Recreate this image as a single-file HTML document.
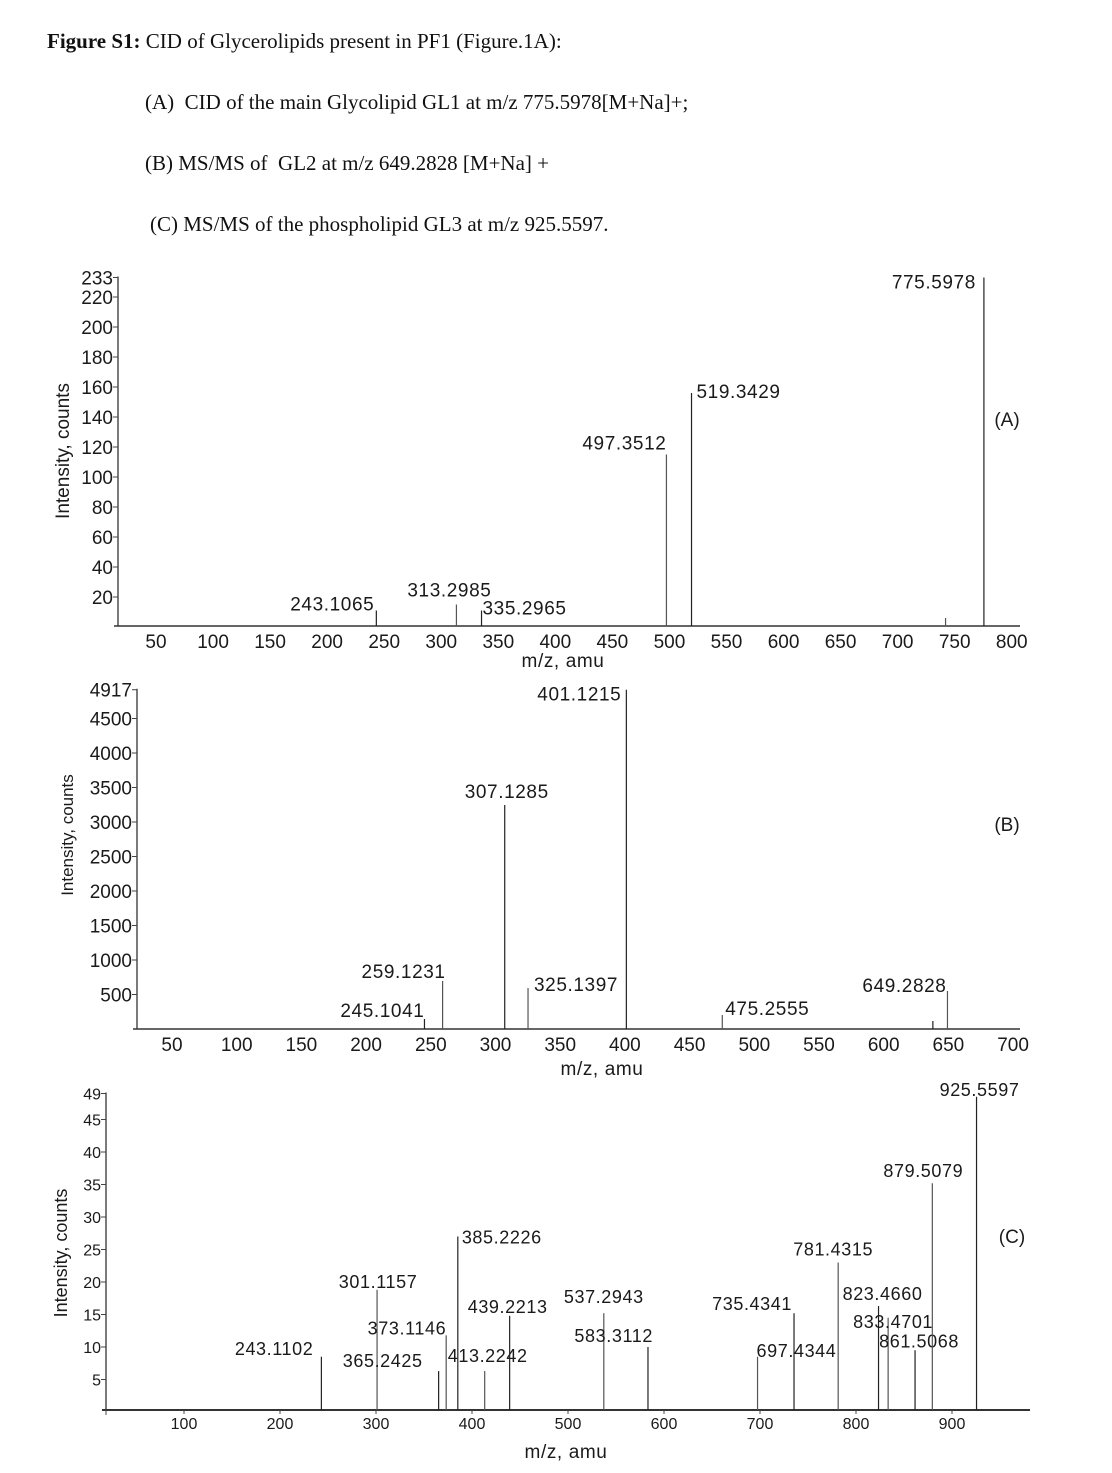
<!DOCTYPE html>
<html><head><meta charset="utf-8"><style>
html,body{margin:0;padding:0;background:#fff;}
body{width:1112px;height:1473px;position:relative;overflow:hidden;}
.t{position:absolute;font-family:"Liberation Serif",serif;font-size:21px;color:#111;white-space:nowrap;}
svg{position:absolute;left:0;top:0;}
svg text{font-family:"Liberation Sans",sans-serif;fill:#1a1a1a;}
</style></head><body>
<div class="t" style="left:47px;top:29px;"><b>Figure S1:</b> CID of Glycerolipids present in PF1 (Figure.1A):</div>
<div class="t" style="left:145px;top:90px;">(A)&nbsp; CID of the main Glycolipid GL1 at m/z 775.5978[M+Na]+;</div>
<div class="t" style="left:145px;top:151px;">(B) MS/MS of&nbsp; GL2 at m/z 649.2828 [M+Na] +</div>
<div class="t" style="left:150px;top:212px;">(C) MS/MS of the phospholipid GL3 at m/z 925.5597.</div>
<svg id="chart" width="1112" height="1473"></svg>
<script>
// Panel A data
const aMz = [243.1065, 313.2985, 335.2965, 497.3512, 519.3429, 742, 775.5978];
const aInt = [11, 15, 11, 115, 156, 6, 233];
const aLabels = ["243.1065","313.2985","335.2965","497.3512","519.3429","","775.5978"];
const aXTicks = [50,100,150,200,250,300,350,400,450,500,550,600,650,700,750,800];
const aYTicks = [20,40,60,80,100,120,140,160,180,200,220,233];
// Panel B data
const bMz = [245.1041, 259.1231, 307.1285, 325.1397, 401.1215, 475.2555, 638, 649.2828];
const bInt = [145, 696, 3246, 594, 4917, 203, 116, 551];
const bLabels = ["245.1041","259.1231","307.1285","325.1397","401.1215","475.2555","","649.2828"];
const bXTicks = [50,100,150,200,250,300,350,400,450,500,550,600,650,700];
const bYTicks = [500,1000,1500,2000,2500,3000,3500,4000,4500,4917];
// Panel C data
const cMz = [243.1102,301.1157,365.2425,373.1146,385.2226,413.2242,439.2213,537.2943,583.3112,697.4344,735.4341,781.4315,823.4660,833.4701,861.5068,879.5079,925.5597];
const cInt = [8.5,18.8,6.3,11.8,27,6.3,14.8,15.2,10,8.5,15.2,23,16.3,14.5,9.5,35.2,48.5];
const cLabels = ["243.1102","301.1157","365.2425","373.1146","385.2226","413.2242","439.2213","537.2943","583.3112","697.4344","735.4341","781.4315","823.4660","833.4701","861.5068","879.5079","925.5597"];
const cXTicks = [100,200,300,400,500,600,700,800,900];
const cYTicks = [5,10,15,20,25,30,35,40,45,49];

// label layout (anchor, dx, dy relative to peak top) - styling only
const aLay = [["end",-2,0],["middle",-7,-8],["start",1,4],["end",0,-5],["start",5,5],["",0,0],["end",-8,11]];
const bLay = [["end",0,-2],["end",3,-3],["middle",2,-7],["start",6,3],["end",-5,11],["start",3,0],["",0,0],["end",-1,1]];
const cLay = [["end",-8,-2],["middle",1,-2],["end",-16,-4],["end",0,-1],["start",4,7],["middle",3,-9],["middle",-2,-3],["middle",0,-10],["end",5,-5],["start",-1,0],["end",-2,-3],["middle",-5,-7],["middle",4,-6],["middle",5,10],["middle",4,-3],["middle",-9,-6],["middle",3,-1]];

const NS="http://www.w3.org/2000/svg";
const svg=document.getElementById('chart');
function mk(tag,attrs,parent){const e=document.createElementNS(NS,tag);for(const k in attrs)e.setAttribute(k,attrs[k]);(parent||svg).appendChild(e);return e;}

function panel(p){
  const g=mk('g',{});
  
  
  const xs=v=>p.x0+(v-p.v0)*p.kx;
  const ys=v=>p.y0-v*p.ky;
  const ya=mk('line',{x1:p.ax,y1:ys(p.yMax)-1,x2:p.ax,y2:p.axisY,stroke:'#333','stroke-width':1.3},g);
  
  
  const xa=mk('line',{x1:p.ax-4,y1:p.axisY,x2:p.axEnd,y2:p.axisY,stroke:'#333','stroke-width':p.axW},g);
  
  
  p.yT.forEach(v=>{
    const y=ys(v);
    mk('line',{x1:p.ax-5,y1:y,x2:p.ax,y2:y,stroke:'#444','stroke-width':1},g);
    const t=mk('text',{x:p.ax-5,y:y+p.yfs*0.36,'text-anchor':'end','font-size':p.yfs},g);
    t.textContent=v;
    
    
  });
  p.xT.forEach(v=>{
    const x=xs(v);
    if(p.xTickMarks) mk('line',{x1:x,y1:p.axisY,x2:x,y2:p.axisY+4,stroke:'#444','stroke-width':1},g);
    const t=mk('text',{x:x,y:p.axisY+p.xLabDy,'text-anchor':'middle','font-size':p.xfs},g);
    t.textContent=v;
    
    
  });
  if(p.xTickMarks) mk('line',{x1:p.ax,y1:p.axisY,x2:p.ax,y2:p.axisY+5,stroke:'#444','stroke-width':1},g);
  p.mz.forEach((m,i)=>{
    const x=xs(m), top=ys(p.it[i]);
    const l=mk('line',{x1:x,y1:p.axisY,x2:x,y2:top,stroke:i%2?'#555':'#222','stroke-width':1.2},g);
    
    
    if(p.lab[i]){
      const L=p.lay[i];
      const t=mk('text',{x:x+L[1],y:top+L[2],'text-anchor':L[0],'font-size':p.lfs,'letter-spacing':'0.6'},g);
      t.textContent=p.lab[i];
      
      
    }
  });
  const xt=mk('text',{x:p.xtX,y:p.xtY,'text-anchor':'middle','font-size':19,'letter-spacing':'0.6'},g);
  xt.textContent='m/z, amu';
  
  
  const yt=mk('text',{x:0,y:0,'text-anchor':'middle','font-size':p.ytfs,transform:`translate(${p.ytX},${p.ytY}) rotate(-90)`},g);
  yt.textContent='Intensity, counts';
  
  
  const pl=mk('text',{x:p.plX,y:p.plY,'text-anchor':'middle','font-size':19},g);
  pl.textContent=p.tag;
  
  
}

panel({name:'panel-a',tag:'(A)',mz:aMz,it:aInt,lab:aLabels,lay:aLay,xT:aXTicks,yT:aYTicks,yMax:233,
  x0:156,v0:50,kx:1.141,y0:627,ky:1.5,ax:118,axEnd:1020,axisY:626,axW:1.5,
  yfs:19,xfs:19,lfs:19,xLabDy:22,xTickMarks:false,xtX:563,xtY:667,ytX:69,ytY:451,ytfs:19,plX:1007,plY:426});
panel({name:'panel-b',tag:'(B)',mz:bMz,it:bInt,lab:bLabels,lay:bLay,xT:bXTicks,yT:bYTicks,yMax:4917,
  x0:172,v0:50,kx:1.294,y0:1029,ky:0.069,ax:137,axEnd:1020,axisY:1029,axW:1.5,
  yfs:19,xfs:19,lfs:19,xLabDy:22,xTickMarks:false,xtX:602,xtY:1075,ytX:73,ytY:835,ytfs:17,plX:1007,plY:831});
panel({name:'panel-c',tag:'(C)',mz:cMz,it:cInt,lab:cLabels,lay:cLay,xT:cXTicks,yT:cYTicks,yMax:49,
  x0:184,v0:100,kx:0.96,y0:1412,ky:6.5,ax:106,axEnd:1030,axisY:1410,axW:2,
  yfs:16,xfs:16,lfs:18,xLabDy:19,xTickMarks:true,xtX:566,xtY:1458,ytX:67,ytY:1253,ytfs:18,plX:1012,plY:1243});
</script>
</body></html>
